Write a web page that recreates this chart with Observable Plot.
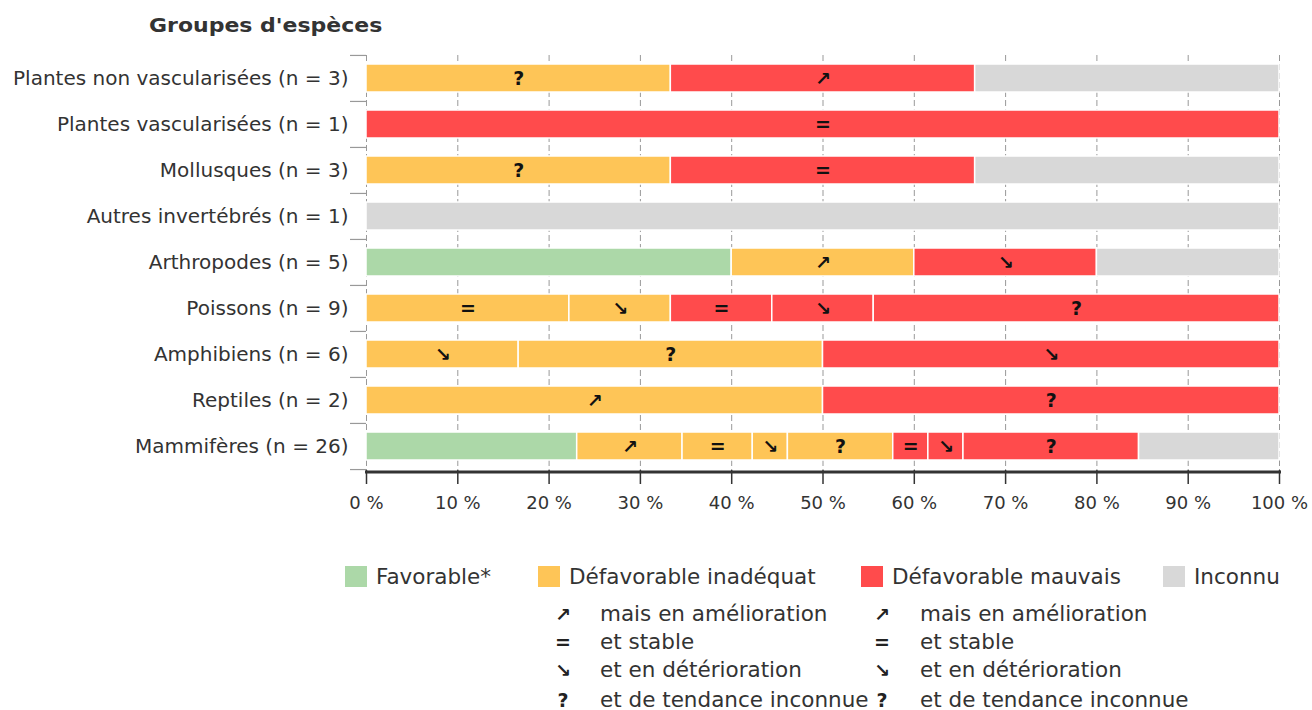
<!DOCTYPE html>
<html><head><meta charset="utf-8">
<script src="https://cdn.jsdelivr.net/npm/d3@7"></script>
<script src="https://cdn.jsdelivr.net/npm/@observablehq/plot@0.6"></script>
<style>
body{margin:0;background:#fff;font-family:"DejaVu Sans",sans-serif;color:#333;width:1312px;height:710px;position:relative;overflow:hidden}
#title{position:absolute;left:149px;top:13px;font-weight:bold;font-size:20px;color:#333;transform:scaleX(1.1);transform-origin:left center;white-space:nowrap}
#chart{position:absolute;left:0;top:48px}
.lg{position:absolute;font-size:21.5px;color:#333;white-space:nowrap;line-height:22px}
.sw{position:absolute;width:22px;height:21px}
.sym{position:absolute;font-weight:bold;font-size:19px;color:#222;line-height:22px;text-align:center;width:24px}
</style></head>
<body>
<div id="title">Groupes d'espèces</div>
<div id="chart"></div>
<div id="legend"></div>
<script>
const groupes = [
  "Plantes non vascularisées (n = 3)",
  "Plantes vascularisées (n = 1)",
  "Mollusques (n = 3)",
  "Autres invertébrés (n = 1)",
  "Arthropodes (n = 5)",
  "Poissons (n = 9)",
  "Amphibiens (n = 6)",
  "Reptiles (n = 2)",
  "Mammifères (n = 26)"
];
const statuts = ["Favorable*", "Défavorable inadéquat", "Défavorable mauvais", "Inconnu"];
const couleurs = ["#acd8a8", "#fec557", "#ff4b4c", "#d8d8d8"];
const tendances = ["↗", "=", "↘", "?"];
const tendLabels = ["mais en amélioration", "et stable", "et en détérioration", "et de tendance inconnue"];

// segments: [statut index, tendance, nombre d'espèces]
const plantesNonVasc = [[1, "?", 1], [2, "↗", 1], [3, "", 1]];
const plantesVasc = [[2, "=", 1]];
const mollusques = [[1, "?", 1], [2, "=", 1], [3, "", 1]];
const autresInvert = [[3, "", 1]];
const arthropodes = [[0, "", 2], [1, "↗", 1], [2, "↘", 1], [3, "", 1]];
const poissons = [[1, "=", 2], [1, "↘", 1], [2, "=", 1], [2, "↘", 1], [2, "?", 4]];
const amphibiens = [[1, "↘", 1], [1, "?", 2], [2, "↘", 3]];
const reptiles = [[1, "↗", 1], [2, "?", 1]];
const mammiferes = [[0, "", 6], [1, "↗", 3], [1, "=", 2], [1, "↘", 1], [1, "?", 3], [2, "=", 1], [2, "↘", 1], [2, "?", 5], [3, "", 4]];
const segmentsParGroupe = [plantesNonVasc, plantesVasc, mollusques, autresInvert, arthropodes, poissons, amphibiens, reptiles, mammiferes];
const xTicks = [0, 10, 20, 30, 40, 50, 60, 70, 80, 90, 100];

const rows = [];
segmentsParGroupe.forEach((segs, gi) => {
  const n = d3.sum(segs, s => s[2]);
  segs.forEach(([si, t, c]) => rows.push({groupe: groupes[gi], statut: statuts[si], tendance: t, pct: c / n * 100}));
});

const plotH = 415, mTop = 7, step = plotH / groupes.length;
const chart = Plot.plot({
  width: 1312, height: 480,
  marginLeft: 366, marginRight: 33, marginTop: mTop, marginBottom: 58,
  style: {fontFamily: "DejaVu Sans, sans-serif", fontSize: "18px", color: "#333", background: "#fff"},
  x: {domain: [0, 100], ticks: xTicks, tickFormat: d => d + " %", label: null},
  y: {domain: groupes, paddingInner: 0.39, paddingOuter: 0.195, label: null},
  color: {domain: statuts, range: couleurs},
  marks: [
    Plot.ruleX(xTicks, {stroke: "#999", strokeDasharray: "6,3", strokeWidth: 1}),
    Plot.ruleY(groupes, {y: d => d, x1: -1.75, x2: 0, dy: -step / 2, stroke: "#999", strokeWidth: 1.2}),
    Plot.ruleY(groupes.slice(-1), {y: d => d, x1: -1.75, x2: 0, dy: step / 2, stroke: "#999", strokeWidth: 1.2}),
    Plot.barX(rows, Plot.stackX({x: "pct", y: "groupe", fill: "statut", order: null, stroke: "#fff", strokeWidth: 1.5})),
    Plot.text(rows, Plot.stackX({x: "pct", y: "groupe", text: "tendance", order: null, fontWeight: "bold", fontSize: 19, fill: "#111"})),
    Plot.axisY({tickSize: 0, tickPadding: 18, fontSize: 20, label: null}),
    Plot.axisX({ticks: xTicks, tickFormat: d => d + " %", tickSize: 14, tickPadding: 12, fontSize: 18, stroke: "#333", strokeWidth: 1.5, label: null}),
    Plot.frame({anchor: "bottom", stroke: "#333", strokeWidth: 3, dy: 1.5})
  ]
});
document.getElementById("chart").appendChild(chart);

// legend
const lg = document.getElementById("legend");
const swX = [345, 538, 861, 1163];
statuts.forEach((s, i) => {
  const sw = document.createElement("div");
  sw.className = "sw"; sw.style.left = swX[i] + "px"; sw.style.top = "566px"; sw.style.background = couleurs[i];
  lg.appendChild(sw);
  const t = document.createElement("div");
  t.className = "lg"; t.style.left = (swX[i] + 31) + "px"; t.style.top = "566px"; t.textContent = s;
  lg.appendChild(t);
});
const colSym = [551, 870], colTxt = [600, 920], rowY = [603, 631, 659, 689];
colSym.forEach((cx, ci) => {
  tendances.forEach((sym, ri) => {
    const s = document.createElement("div");
    s.className = "sym"; s.style.left = cx + "px"; s.style.top = rowY[ri] + "px"; s.textContent = sym;
    lg.appendChild(s);
    const t = document.createElement("div");
    t.className = "lg"; t.style.left = colTxt[ci] + "px"; t.style.top = rowY[ri] + "px"; t.textContent = tendLabels[ri];
    lg.appendChild(t);
  });
});
</script>
</body></html>
